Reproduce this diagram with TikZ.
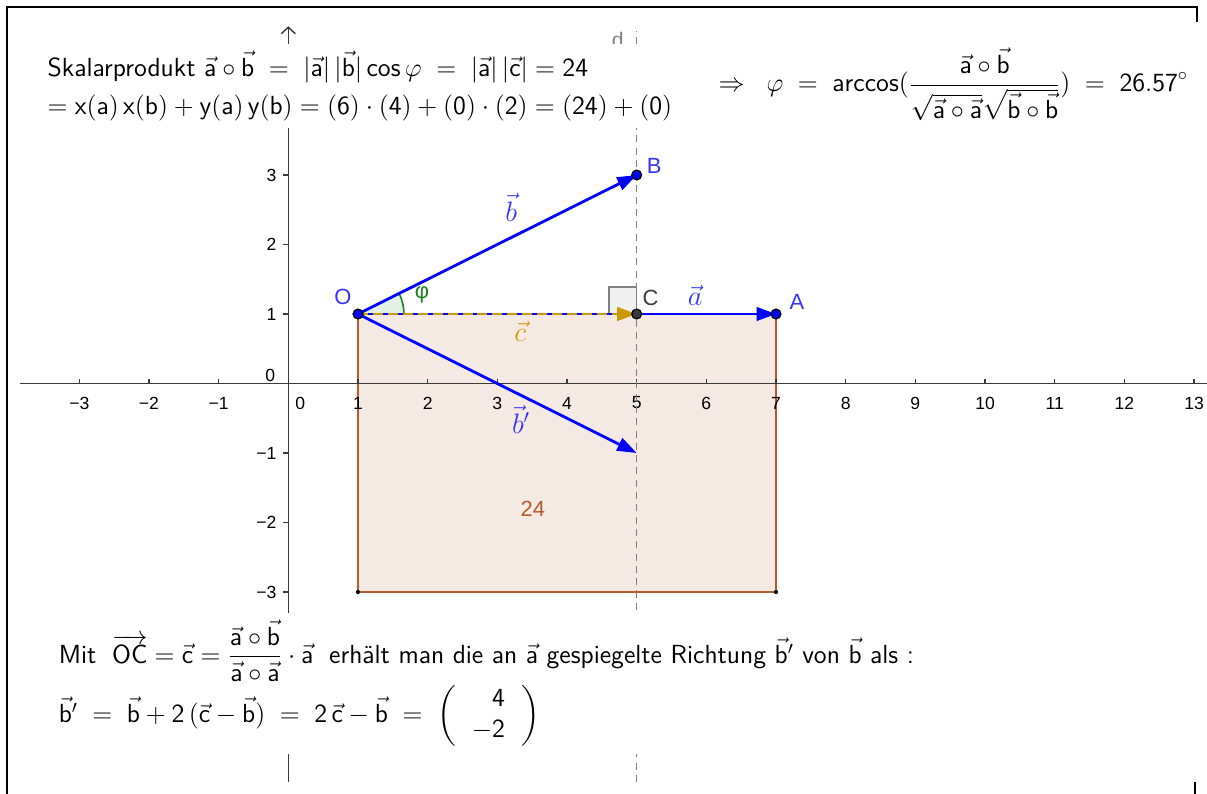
\RequirePackage{fix-cm}
\documentclass[tikz,border=0pt]{standalone}
\usepackage{amsmath}
\usepackage{fontspec}
\newfontfamily\axfont{Liberation Sans}
\usetikzlibrary{arrows.meta,positioning,calc}
\definecolor{ggblue}{HTML}{0000FF}
\definecolor{gglab}{HTML}{3333FF}
\definecolor{ggbrown}{HTML}{B85A2E}
\definecolor{ggfill}{HTML}{F5E9E4}
\definecolor{gggold}{HTML}{CC9900}
\definecolor{gggreen}{HTML}{1E7F1E}
\definecolor{gggrey}{HTML}{808080}
\definecolor{ggdark}{HTML}{3A3A3A}
\newcommand{\sv}[1]{\vec{\mathsf{#1}}}
\tikzset{
  frame/.style={line width=1.4pt,black},
  axis/.style={line width=0.8pt,ggdark},
  perp/.style={gggrey,line width=0.7pt,dash pattern=on 4pt off 3pt},
  edge/.style={ggbrown,line width=0.9pt},
  tck/.style={font=\axfont\fontsize{10}{11}\selectfont,inner sep=1pt},
  vect/.style={-{Triangle[length=3.9mm,width=2.7mm]},line width=1.6pt,ggblue},
  cvect/.style={-{Triangle[length=3.9mm,width=2.7mm]},line width=1.6pt,gggold,
               dash pattern=on 5.7pt off 2.8pt},
  pnt/.style={circle,draw=black,fill=ggblue,line width=0.7pt,inner sep=0pt,minimum size=5.6pt},
  plab/.style={font=\axfont\fontsize{12.5}{14}\selectfont,text=gglab,inner sep=1pt},
  vlab/.style={font=\fontsize{16}{18}\selectfont,text=gglab,inner sep=1pt},
  formel/.style={fill=white,align=left,font=\sffamily\fontsize{14.9}{21.5}\selectfont,inner sep=4pt},
}

\begin{document}
\begin{tikzpicture}[x=1.3934cm,y=1.39cm]
  \useasboundingbox (-4.138,-5.906) rectangle (13.186,5.518);
  \draw[frame] (-4.038,-5.906) -- (-4.038,5.417) -- (13.04,5.417) -- (13.04,5.2);
  \draw[frame] (13.01,-5.734) -- (13.01,-5.906);

  \coordinate (O) at (1,1);
  \coordinate (A) at (7,1);
  \coordinate (B) at (5,3);
  \coordinate (C) at (5,1);
  \coordinate (Bs) at (5,-1);
  \coordinate (P1) at (1,-3);
  \coordinate (P2) at (7,-3);

  \fill[ggfill] (O) rectangle (P2);
  \draw[edge] (O) -- (P1) -- (P2) -- (A);
  \fill (P1) circle (1.2pt) (P2) circle (1.2pt);

  \draw[axis] (-3.85,0) -- (13.186,0);
  \draw[axis,-{Straight Barb[length=1.3mm,width=2.8mm]}] (0,-5.734) -- (0,5.14);
  \foreach \n in {1,...,13} {
    \draw[axis] (\n,0) -- (\n,0.07);
    \node[tck] (xl\n) at (\n,-0.28) {\n};
  }
  \foreach \n in {1,2,3} {
    \draw[axis] (-\n,0) -- (-\n,0.07);
    \node[tck] (xm\n) at (-\n,-0.28) {−\n};
    \draw[axis] (0,\n) -- (-0.07,\n);
    \node[tck,anchor=east] (yl\n) at (-0.14,\n) {\n};
    \draw[axis] (0,-\n) -- (-0.07,-\n);
    \node[tck,anchor=east] (ym\n) at (-0.14,-\n) {−\n};
  }
  \node[tck] (x0) at (0.17,-0.28) {0};
  \node[tck] (y0) at (-0.26,0.12) {0};

  \draw[perp] (5,-5.734) -- (5,5.07);
  \node[tck,text=gggrey,font=\axfont\fontsize{12}{13}\selectfont] (dname) at (4.73,4.95) {d};

  \node[formel,anchor=north west] (skalar) at (-3.56,4.89)
    {Skalarprodukt $\sv{a}\circ\sv{b} \;=\; |\sv{a}|\,|\sv{b}|\,\mathsf{cos}\,\varphi \;=\; |\sv{a}|\,|\sv{c}| = \mathsf{24}$\\
     $= \mathsf{x(a)\,x(b)} + \mathsf{y(a)\,y(b)} = (\mathsf{6})\cdot(\mathsf{4}) + (\mathsf{0})\cdot(\mathsf{2}) = (\mathsf{24}) + (\mathsf{0})$};
  \node[formel,anchor=west] (winkel) at (6.07,4.3)
    {$\Rightarrow\;\;\varphi \;=\; \mathsf{arccos}(\dfrac{\sv{a}\circ\sv{b}}{\sqrt{\sv{a}\circ\sv{a}}\sqrt{\sv{b}\circ\sv{b}}}) \;=\; \mathsf{26.57}^\circ$};
  \node[formel,anchor=north west] (spiegel) at (-3.4,-3.3)
    {Mit \;$\overrightarrow{\mathsf{OC}} = \sv{c} = \dfrac{\sv{a}\circ\sv{b}}{\sv{a}\circ\sv{a}}\cdot\sv{a}$ \;erhält man die an $\sv{a}$ gespiegelte Richtung $\vec{\mathsf{b}}'$ von $\sv{b}$ als :\\[1pt]
     $\vec{\mathsf{b}}' \;=\; \sv{b} + \mathsf{2}\,(\sv{c}-\sv{b}) \;=\; \mathsf{2}\,\sv{c}-\sv{b} \;=\; \renewcommand{\arraystretch}{0.82}\left(\;\begin{array}{r}\mathsf{4}\\ -\mathsf{2}\end{array}\;\right)$};

  \fill[gggreen!12] (O) -- ++(0.66,0) arc[start angle=0,end angle=26.57,radius=0.66] -- cycle;
  \draw[gggreen,line width=0.9pt] ($(O)+(0.66,0)$) arc[start angle=0,end angle=26.57,radius=0.66];
  \node[plab,text=gggreen] (phi) at (1.92,1.27) {φ};
  \filldraw[fill=black!6,draw=gggrey,line width=0.9pt] (C) rectangle ++(-0.4,0.39);

  \draw[vect] (O) -- (A);
  \draw[vect] (O) -- (B);
  \draw[vect] (O) -- (Bs);
  \draw[cvect] (O) -- (C);

  \node[pnt] (Opt) at (O) {};
  \node[pnt] (Apt) at (A) {};
  \node[pnt] (Bpt) at (B) {};
  \node[pnt,fill=ggdark] (Cpt) at (C) {};

  \node[plab] (Olab) at (0.785,1.245) {O};
  \node[plab] (Alab) at (7.3,1.17) {A};
  \node[plab] (Blab) at (5.25,3.13) {B};
  \node[plab,text=ggdark] (Clab) at (5.2,1.23) {C};
  \node[vlab] (alab) at (5.84,1.26) {$\vec{a}$};
  \node[vlab] (blab) at (3.2,2.53) {$\vec{b}$};
  \node[vlab,text=gggold] (clab) at (3.33,0.75) {$\vec{c}$};
  \node[vlab] (bslab) at (3.34,-0.52) {$\vec{b}'$};
  \node[plab,text=ggbrown] (area) at (3.51,-1.806) {24};
\end{tikzpicture}
\end{document}
